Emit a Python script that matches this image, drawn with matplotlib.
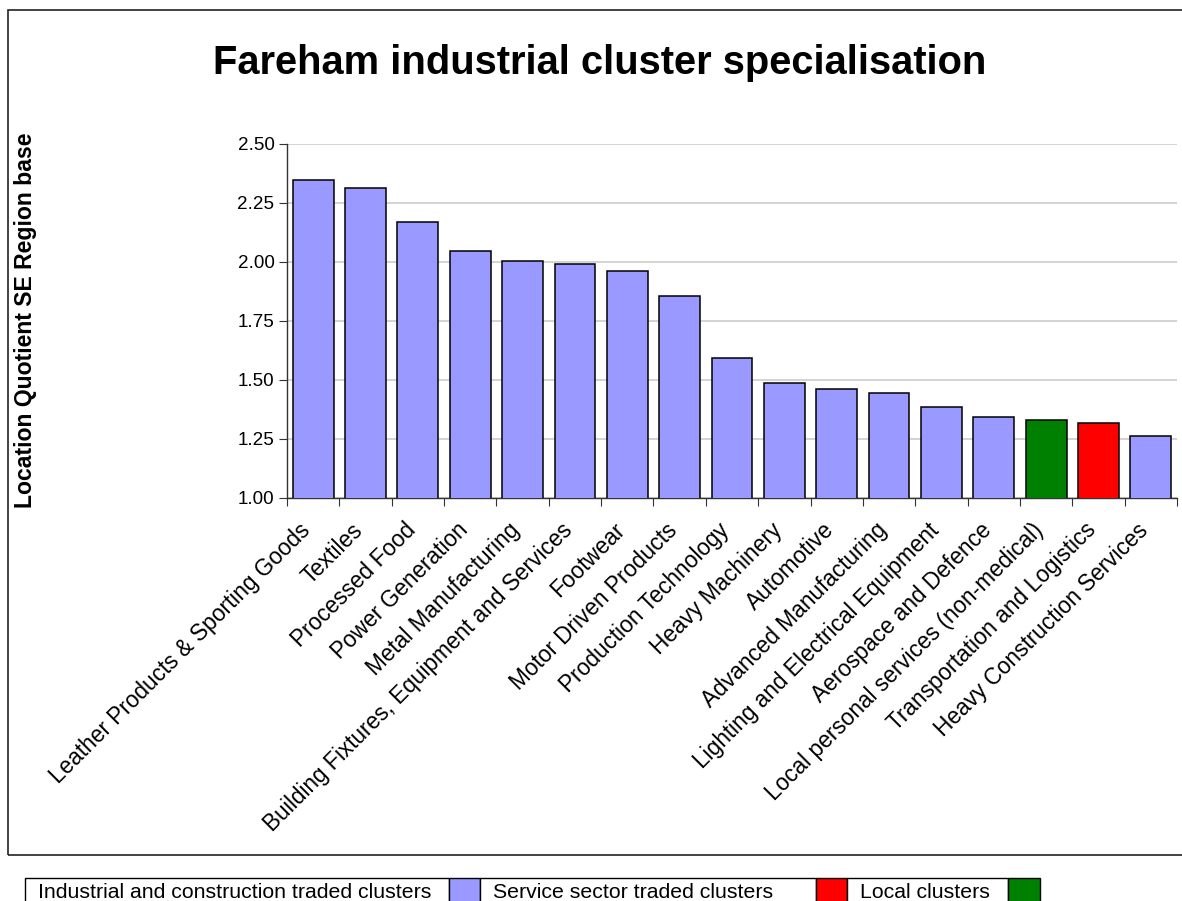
import numpy as np
import matplotlib.pyplot as plt
import matplotlib.transforms as mtransforms
from matplotlib.patches import Rectangle

plt.rcParams['font.family'] = ['Liberation Sans', 'DejaVu Sans']

# cluster location quotients (Fareham vs SE region)
categories = ["Leather Products & Sporting Goods", "Textiles", "Processed Food",
              "Power Generation", "Metal Manufacturing",
              "Building Fixtures, Equipment and Services", "Footwear",
              "Motor Driven Products", "Production Technology", "Heavy Machinery",
              "Automotive", "Advanced Manufacturing",
              "Lighting and Electrical Equipment", "Aerospace and Defence",
              "Local personal services (non-medical)",
              "Transportation and Logistics", "Heavy Construction Services"]
values = [2.347, 2.312, 2.170, 2.046, 2.004, 1.992, 1.961, 1.856, 1.592, 1.485,
          1.460, 1.445, 1.383, 1.340, 1.328, 1.315, 1.262]
bar_colors = ["#9999FF"] * 14 + ["#008000", "#FF0000", "#9999FF"]
y_ticks = [1.00, 1.25, 1.50, 1.75, 2.00, 2.25, 2.50]

# legend as drawn in the original (text cell followed by colour cell)
legend_labels = ["Industrial and construction traded clusters",
                 "Service sector traded clusters", "Local clusters"]
legend_colors = ["#9999FF", "#FF0000", "#008000"]

W, H = 1182, 901
fig = plt.figure(figsize=(W / 100, H / 100), dpi=100)

# outer chart frame
fig.patches.append(Rectangle((8 / W, 1 - 855 / H), 1.1, (855 - 10) / H,
                             transform=fig.transFigure, fill=False,
                             edgecolor="#222222", linewidth=1.2))

ax = fig.add_axes([287 / W, 1 - 497.5 / H, 890 / W, (497.5 - 143.7) / H])
x = np.arange(len(categories))
ax.bar(x, values, width=0.78, bottom=0, color=bar_colors,
       edgecolor="black", linewidth=1.1, zorder=3)
ax.set_xlim(-0.5, len(categories) - 0.5)
ax.set_ylim(1.0, 2.5)
ax.set_yticks(y_ticks, ["%.2f" % v for v in y_ticks])
ax.yaxis.grid(True, color="#c8c8c8", linewidth=1.1, zorder=0)
ax.set_axisbelow(True)

ax.set_xticks(np.arange(-0.5, len(categories)), [])
ax.set_xticks(x, categories, minor=True)
ax.tick_params(axis="x", which="major", length=6, direction="out", color="#333333")
ax.tick_params(axis="x", which="minor", length=0, pad=21, labelsize=16.3)
ax.tick_params(axis="y", length=6, direction="out", labelsize=13.6, pad=3, color="#333333")
shift = mtransforms.ScaledTranslation(-6 / 100, 0, fig.dpi_scale_trans)
for lbl in ax.get_xticklabels(minor=True):
    lbl.set_rotation(45)
    lbl.set_ha("right")
    lbl.set_va("center")
    lbl.set_rotation_mode("anchor")
    lbl.set_transform(lbl.get_transform() + shift)

for s in ["top", "right"]:
    ax.spines[s].set_visible(False)
for s in ["left", "bottom"]:
    ax.spines[s].set_color("#333333")
    ax.spines[s].set_linewidth(1.0)

fig.text(600 / W, 1 - 63 / H, "Fareham industrial cluster specialisation",
         ha="center", va="center", fontsize=28.7, fontweight="bold")
fig.text(26 / W, 1 - 320 / H, "Location Quotient SE Region base",
         ha="center", va="center", rotation=90, fontsize=16.6, fontweight="bold")

# legend table at the bottom
cells = [(25, 449), (449, 480), (480, 816), (816, 847), (847, 1008), (1008, 1040)]
top, bot = 878, 910
for i, (x0, x1) in enumerate(cells):
    k = i // 2
    face = legend_colors[k] if i % 2 else "white"
    fig.patches.append(Rectangle((x0 / W, 1 - bot / H), (x1 - x0) / W, (bot - top) / H,
                                 transform=fig.transFigure, facecolor=face,
                                 edgecolor="black", linewidth=1.0))
    if i % 2 == 0:
        fig.text((x0 + 13) / W, 1 - 893 / H, legend_labels[k], ha="left",
                 va="center", fontsize=15.3)

fig.savefig("out.png", dpi=100)
